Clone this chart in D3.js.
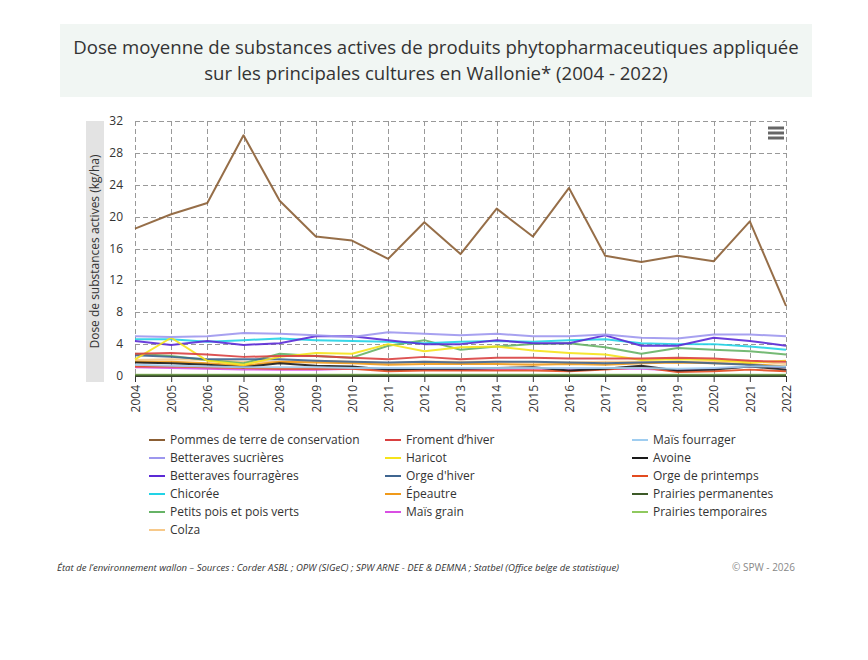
<!DOCTYPE html>
<html>
<head>
<meta charset="utf-8">
<script src="https://cdn.jsdelivr.net/npm/d3@7"></script>
<style>
  body { margin: 0; background: #fff; font-family: "Open Sans", sans-serif; }
  svg { display: block; }
</style>
</head>
<body>
<svg id="chart" width="868" height="660"></svg>
<script>
// years on the x axis
var years = d3.range(2004, 2023);

// one array per crop, kg/ha
var pommesTerre   = [18.5, 20.3, 21.7, 30.2, 22.0, 17.5, 17.0, 14.7, 19.3, 15.3, 21.0, 17.5, 23.6, 15.1, 14.3, 15.1, 14.4, 19.4, 8.8];
var bettSucr      = [5.0, 4.9, 5.0, 5.4, 5.3, 5.1, 4.9, 5.5, 5.3, 5.1, 5.3, 5.0, 5.0, 5.2, 4.8, 4.7, 5.2, 5.2, 5.0];
var bettFourr     = [4.4, 3.9, 4.4, 3.9, 4.1, 5.0, 5.0, 4.5, 4.0, 4.0, 4.5, 4.1, 4.1, 5.1, 3.8, 3.8, 4.8, 4.4, 3.8];
var chicoree      = [4.6, 4.6, 4.3, 4.5, 4.7, 4.5, 4.4, 4.3, 4.1, 4.3, 4.4, 4.3, 4.5, 4.6, 4.1, 4.0, 4.0, 3.7, 3.3];
var petitsPois    = [2.8, 2.5, 2.0, 1.6, 2.8, 2.5, 2.3, 3.8, 4.5, 3.3, 3.7, 4.0, 4.1, 3.6, 2.8, 3.5, 3.3, 3.1, 2.7];
var colza         = [2.0, 2.1, 2.0, 1.8, 1.8, 1.9, 1.8, 1.6, 1.8, 1.8, 1.8, 1.7, 1.7, 1.8, 1.8, 1.7, 1.8, 1.9, 1.5];
var froment       = [2.8, 2.9, 2.7, 2.4, 2.5, 2.5, 2.3, 2.1, 2.4, 2.1, 2.3, 2.3, 2.2, 2.2, 2.2, 2.3, 2.2, 1.9, 1.8];
var haricot       = [2.1, 4.8, 1.9, 1.4, 2.4, 2.9, 2.8, 4.0, 3.1, 3.6, 3.7, 3.2, 2.9, 2.7, 2.0, 2.1, 2.0, 1.7, 1.9];
var orgeHiver     = [2.6, 2.4, 2.1, 2.1, 2.1, 1.9, 1.8, 1.7, 1.8, 1.7, 1.8, 1.8, 1.7, 1.6, 1.7, 1.8, 1.6, 1.4, 1.1];
var epeautre      = [1.8, 1.8, 1.6, 1.3, 1.8, 1.7, 1.6, 1.4, 1.5, 1.5, 1.5, 1.4, 1.5, 1.4, 1.6, 1.7, 1.6, 1.5, 1.2];
var maisGrain     = [1.1, 1.0, 0.9, 0.8, 0.8, 0.8, 0.9, 0.9, 0.8, 0.8, 0.8, 0.9, 0.9, 0.9, 0.9, 0.7, 0.9, 1.2, 1.1];
var maisFourr     = [1.4, 1.3, 1.2, 1.1, 1.1, 1.1, 1.0, 1.0, 1.0, 1.0, 1.0, 1.0, 1.0, 1.0, 1.0, 0.9, 1.0, 1.2, 1.2];
var avoine        = [1.7, 1.6, 1.4, 1.1, 1.6, 1.3, 1.2, 0.8, 0.9, 0.9, 1.0, 1.1, 0.7, 0.9, 1.3, 0.7, 0.8, 1.2, 0.8];
var orgePrint     = [1.2, 1.2, 1.1, 1.0, 0.9, 0.9, 0.9, 0.6, 0.7, 0.7, 0.7, 0.7, 0.6, 0.8, 1.1, 0.5, 0.6, 0.8, 0.6];
var prairiesPerm  = [0.05, 0.05, 0.05, 0.05, 0.05, 0.05, 0.05, 0.05, 0.05, 0.05, 0.05, 0.05, 0.05, 0.05, 0.05, 0.05, 0.05, 0.05, 0.05];
var prairiesTemp  = [0.15, 0.15, 0.15, 0.15, 0.15, 0.15, 0.15, 0.15, 0.15, 0.15, 0.15, 0.15, 0.15, 0.15, 0.15, 0.15, 0.15, 0.15, 0.15];

var yTicks = [0, 4, 8, 12, 16, 20, 24, 28, 32];

// legend order (row by row, 3 per row)
var series = [
    { name: "Pommes de terre de conservation", values: pommesTerre, color: "#8b5e34" },
    { name: "Froment d\u2019hiver", values: froment, color: "#d94040" },
    { name: "Maïs fourrager", values: maisFourr, color: "#9fcdf0" },
    { name: "Betteraves sucrières", values: bettSucr, color: "#9d97ee" },
    { name: "Haricot", values: haricot, color: "#f5e31b" },
    { name: "Avoine", values: avoine, color: "#1a1a1a" },
    { name: "Betteraves fourragères", values: bettFourr, color: "#5b2ad6" },
    { name: "Orge d'hiver", values: orgeHiver, color: "#3f6590" },
    { name: "Orge de printemps", values: orgePrint, color: "#e34b1f" },
    { name: "Chicorée", values: chicoree, color: "#22d3e6" },
    { name: "Épeautre", values: epeautre, color: "#f09a1a" },
    { name: "Prairies permanentes", values: prairiesPerm, color: "#3d5a28" },
    { name: "Petits pois et pois verts", values: petitsPois, color: "#66b366" },
    { name: "Maïs grain", values: maisGrain, color: "#d94fe3" },
    { name: "Prairies temporaires", values: prairiesTemp, color: "#8fc95e" },
    { name: "Colza", values: colza, color: "#f7c98a" }
];

var svg = d3.select('#chart');

// title box
svg.append('rect')
    .attr('x', 60).attr('y', 24).attr('width', 752).attr('height', 73)
    .attr('fill', '#f1f6f3');
var title = svg.append('text')
    .attr('text-anchor', 'middle')
    .attr('font-size', 18.6)
    .attr('fill', '#333');
title.append('tspan').attr('x', 436).attr('y', 54)
    .text('Dose moyenne de substances actives de produits phytopharmaceutiques appliquée');
title.append('tspan').attr('x', 436).attr('y', 80)
    .text('sur les principales cultures en Wallonie* (2004 - 2022)');

// plot area
var plotLeft = 135, plotRight = 786, plotTop = 121, plotBottom = 376;

var x = d3.scaleLinear().domain([2004, 2022]).range([plotLeft, plotRight]);
var y = d3.scaleLinear().domain([0, 32]).range([plotBottom, plotTop]);

// grid
var grid = svg.append('g').attr('stroke', '#999').attr('stroke-dasharray', '5,3').attr('stroke-width', 1);
grid.selectAll('line.h').data(yTicks.filter(function (d) { return d > 0; }))
    .enter().append('line')
    .attr('x1', plotLeft).attr('x2', plotRight)
    .attr('y1', function (d) { return Math.round(y(d)) + 0.5; })
    .attr('y2', function (d) { return Math.round(y(d)) + 0.5; });
grid.selectAll('line.v').data(years)
    .enter().append('line')
    .attr('x1', function (d) { return Math.round(x(d)) + 0.5; })
    .attr('x2', function (d) { return Math.round(x(d)) + 0.5; })
    .attr('y1', plotTop).attr('y2', plotBottom);

// y axis label with grey band
svg.append('rect')
    .attr('x', 86).attr('y', 121).attr('width', 18).attr('height', 261)
    .attr('fill', '#e3e3e3');
svg.append('text')
    .attr('transform', 'translate(99,' + ((121 + 382) / 2) + ') rotate(-90)')
    .attr('text-anchor', 'middle')
    .attr('font-size', 12)
    .attr('fill', '#333')
    .text('Dose de substances actives (kg/ha)');

// y axis tick labels
svg.append('g').selectAll('text').data(yTicks)
    .enter().append('text')
    .attr('x', 123)
    .attr('y', function (d) { return y(d) + 4; })
    .attr('text-anchor', 'end')
    .attr('font-size', 12)
    .attr('fill', '#333')
    .text(function (d) { return d; });

// x axis
var xAxis = d3.axisBottom(x)
    .tickValues(years)
    .tickFormat(d3.format('d'))
    .tickSize(6)
    .tickSizeOuter(0);
var xg = svg.append('g')
    .attr('transform', 'translate(0,' + plotBottom + ')')
    .call(xAxis);
xg.select('.domain').attr('stroke', '#333');
xg.selectAll('.tick line').attr('stroke', '#333');
xg.selectAll('.tick text')
    .attr('font-family', '"Open Sans", sans-serif')
    .attr('font-size', 12)
    .attr('fill', '#333')
    .attr('transform', 'rotate(-90)')
    .attr('text-anchor', 'end')
    .attr('x', -9)
    .attr('y', 0)
    .attr('dy', '0.35em');

// lines
var line = d3.line()
    .x(function (d, i) { return x(years[i]); })
    .y(function (d) { return y(d); });

svg.append('g').selectAll('path')
    .data(series.slice().reverse())
    .enter().append('path')
    .attr('d', function (d) { return line(d.values); })
    .attr('fill', 'none')
    .attr('stroke', function (d) { return d.color; })
    .attr('stroke-width', 2)
    .attr('stroke-linejoin', 'round')
    .attr('opacity', 0.9);

// menu icon
var menu = svg.append('g').attr('stroke', '#666').attr('stroke-width', 3);
[128, 133, 138].forEach(function (yy) {
    menu.append('line').attr('x1', 768).attr('x2', 784).attr('y1', yy).attr('y2', yy);
});

// legend
var legend = svg.append('g');
var colX = [149, 385, 632];
series.forEach(function (s, i) {
    var col = i % 3, row = Math.floor(i / 3);
    var gx = colX[col], gy = 440 + row * 18;
    legend.append('line')
        .attr('x1', gx).attr('x2', gx + 16)
        .attr('y1', gy).attr('y2', gy)
        .attr('stroke', s.color).attr('stroke-width', 2);
    legend.append('text')
        .attr('x', gx + 21).attr('y', gy + 4)
        .attr('font-size', 12)
        .attr('fill', '#333')
        .text(s.name);
});

// footer
svg.append('text')
    .attr('x', 57).attr('y', 571)
    .attr('font-size', 9.5)
    .attr('font-style', 'italic')
    .attr('fill', '#333')
    .attr('textLength', 562)
    .attr('lengthAdjust', 'spacingAndGlyphs')
    .text('État de l\u2019environnement wallon – Sources : Corder ASBL ; OPW (SIGeC) ; SPW ARNE - DEE & DEMNA ; Statbel (Office belge de statistique)');
svg.append('text')
    .attr('x', 795).attr('y', 571)
    .attr('text-anchor', 'end')
    .attr('font-size', 10)
    .attr('fill', '#888')
    .text('© SPW - 2026');
</script>
</body>
</html>
